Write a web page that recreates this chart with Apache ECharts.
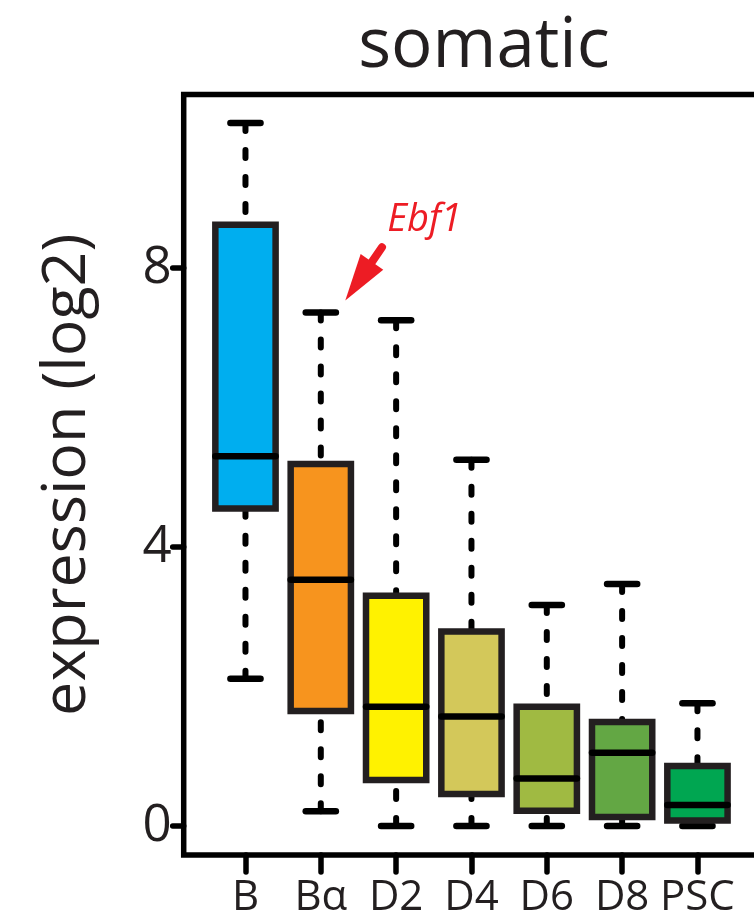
<!DOCTYPE html>
<html><head><meta charset="utf-8">
<script src="https://cdn.jsdelivr.net/npm/echarts@6/dist/echarts.min.js"></script>
<style>html,body{margin:0;padding:0;background:#fff}#c{width:754px;height:919px}</style>
</head><body><div id="c"></div>
<script>
// ---- data ----
const categories = ['B', 'Bα', 'D2', 'D4', 'D6', 'D8', 'PSC'];
const lowerWhisker = [2.11, 0.21, 0, 0, 0, 0, 0];
const q1 = [4.55, 1.65, 0.66, 0.46, 0.22, 0.13, 0.08];
const median = [5.30, 3.53, 1.71, 1.57, 0.68, 1.05, 0.30];
const q3 = [8.62, 5.19, 3.30, 2.79, 1.71, 1.49, 0.86];
const upperWhisker = [10.08, 7.36, 7.25, 5.25, 3.17, 3.47, 1.76];
const yTickValues = [0, 4, 8];
const xTickValues = [1, 2, 3, 4, 5, 6, 7];
const annotationGene = 'Ebf1';
const annotationIndex = 1;

// ---- styles ----
const boxColors = ['#00AEEF', '#F7941E', '#FFF200', '#D3C85A', '#A0BA42', '#63A744', '#00A651'];
const FONT = 'Open Sans';
const TXT = '#231F20';

const chart = echarts.init(document.getElementById('c'), null, {renderer: 'canvas'});
const seriesData = categories.map((c, i) => [i + 1, lowerWhisker[i], q1[i], median[i], q3[i], upperWhisker[i]]);

function renderBox(params, api) {
  const x = api.value(0);
  const cx = api.coord([x, 0])[0];
  const py = v => api.coord([x, v])[1];
  const half = api.size([0.8, 0])[0] / 2;
  const staple = half / 2;
  const color = boxColors[params.dataIndex];
  const wStyle = {stroke: '#000', lineWidth: 6, lineDash: [8, 19], lineCap: 'round', fill: null};
  const cStyle = {stroke: '#000', lineWidth: 6.5, lineCap: 'round', fill: null};
  return {
    type: 'group',
    children: [
      {type: 'line', shape: {x1: cx, y1: py(api.value(5)), x2: cx, y2: py(api.value(4))}, style: wStyle},
      {type: 'line', shape: {x1: cx, y1: py(api.value(1)), x2: cx, y2: py(api.value(2))}, style: wStyle},
      {type: 'line', shape: {x1: cx - staple, y1: py(api.value(5)), x2: cx + staple, y2: py(api.value(5))}, style: cStyle},
      {type: 'line', shape: {x1: cx - staple, y1: py(api.value(1)), x2: cx + staple, y2: py(api.value(1))}, style: cStyle},
      {type: 'rect', shape: {x: cx - half, y: py(api.value(4)), width: 2 * half, height: py(api.value(2)) - py(api.value(4))},
        style: {fill: color, stroke: '#231F20', lineWidth: 6.5}},
      {type: 'line', shape: {x1: cx - half, y1: py(api.value(3)), x2: cx + half, y2: py(api.value(3))},
        style: {stroke: '#000', lineWidth: 6.5, lineCap: 'round', fill: null}}
    ]
  };
}

const pxPerUnitX = 75.33;
const xMin = 0.18, xMax = 8.0;

chart.setOption({
  animation: false,
  backgroundColor: '#fff',
  title: {
    text: 'somatic', left: 479, top: 8, textAlign: 'center',
    textStyle: {fontFamily: FONT, fontSize: 69, fontWeight: 'normal', color: TXT}
  },
  grid: {
    left: 183.7, top: 94.5, width: (xMax - xMin) * pxPerUnitX, height: 760.5,
    outerBoundsMode: 'none', containLabel: false,
    show: true, borderColor: '#000', borderWidth: 5.5, backgroundColor: 'transparent'
  },
  xAxis: {
    type: 'value', min: xMin, max: xMax,
    axisLine: {show: false, onZero: false}, splitLine: {show: false},
    axisTick: {customValues: xTickValues, length: 17, lineStyle: {color: '#000', width: 5.5, cap: 'round'}},
    axisLabel: {customValues: xTickValues, formatter: v => categories[Math.round(v) - 1] || '',
      fontFamily: FONT, fontSize: 42, color: TXT, margin: 22}
  },
  yAxis: {
    type: 'value', min: -0.4158, max: 10.487,
    name: 'expression (log2)', nameLocation: 'middle', nameGap: 86,
    nameTextStyle: {fontFamily: FONT, fontSize: 61, color: TXT},
    axisLine: {show: false, onZero: false}, splitLine: {show: false},
    axisTick: {customValues: yTickValues, length: 11, lineStyle: {color: '#000', width: 5.5, cap: 'round'}},
    axisLabel: {customValues: yTickValues, fontFamily: FONT, fontSize: 51, color: TXT, margin: 12}
  },
  series: [{
    type: 'custom', renderItem: renderBox, data: seriesData,
    encode: {x: 0, y: [1, 2, 3, 4, 5]}, clip: false
  }]
});

// annotation arrow anchored to the annotated whisker end
const anchor = chart.convertToPixel({gridIndex: 0}, [annotationIndex + 1, upperWhisker[annotationIndex]]);
const tip = [anchor[0] + 24.5, anchor[1] - 12];
const d = [0.567, -0.824], n = [0.824, 0.567];
const start = [tip[0] + d[0] * 64.7, tip[1] + d[1] * 64.7];
const base = [tip[0] + d[0] * 44, tip[1] + d[1] * 44];
const headBase = [tip[0] + d[0] * 47, tip[1] + d[1] * 47];
chart.setOption({
  graphic: [
    {type: 'line', shape: {x1: start[0], y1: start[1], x2: base[0], y2: base[1]},
      style: {stroke: '#ED1C24', lineWidth: 8, lineCap: 'round'}, z: 10},
    {type: 'polygon', shape: {points: [tip,
      [headBase[0] + n[0] * 13.7, headBase[1] + n[1] * 13.7],
      [headBase[0] - n[0] * 13.7, headBase[1] - n[1] * 13.7]]},
      style: {fill: '#ED1C24'}, z: 10},
    {type: 'text', x: anchor[0] + 66.5, y: anchor[1] - 92.5,
      style: {text: annotationGene, fill: '#ED1C24', font: 'italic 38px "Open Sans"', verticalAlign: 'middle', align: 'left'}, z: 10}
  ]
});
</script>
</body></html>
